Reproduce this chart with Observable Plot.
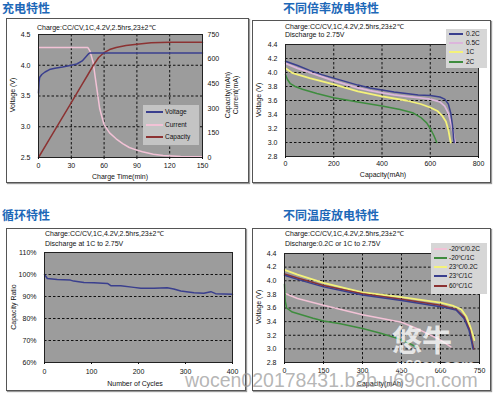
<!DOCTYPE html>
<html><head><meta charset="utf-8">
<script src="https://cdn.jsdelivr.net/npm/d3@7"></script>
<script src="https://cdn.jsdelivr.net/npm/@observablehq/plot@0.6"></script>
<style>
body{margin:0;background:#fff;width:500px;height:398px;overflow:hidden;position:relative;font-family:"Liberation Sans",Arial,sans-serif;}
.abs{position:absolute;white-space:nowrap;line-height:1;}
.title{font-family:"Noto Sans CJK SC",sans-serif;font-weight:bold;font-size:12px;color:#1d68b8;}
.box{position:absolute;border:1px solid #555;box-shadow:1px 1px 1px #999;background:#fff;box-sizing:border-box;}
.t7{font-size:7px;color:#111;}
.leg{position:absolute;box-sizing:border-box;}
</style></head><body>
<script>
// ---------- DATA ----------
// Panel 1: charge characteristics
const chargeTime    = [0, 0.5, 1, 3, 6, 10, 15, 22, 30, 35, 40, 44, 46, 47, 50, 60, 90, 120, 150];
const chargeVoltage = [3.55, 3.72, 3.80, 3.85, 3.89, 3.93, 3.95, 3.97, 4.00, 4.02, 4.07, 4.15, 4.19, 4.20, 4.20, 4.20, 4.20, 4.20, 4.20];
const currentTime   = [0, 45, 47, 50, 53, 56, 60, 65, 71, 77, 83, 90, 95, 105, 114, 130, 150];
const currentMA     = [671, 671, 650, 579, 437, 297, 200, 150, 114, 85, 61, 45, 35, 20, 12, 6, 4];
const capTime       = [0, 10, 20, 30, 40, 45, 50, 55, 60, 65, 71, 80, 90, 103, 120, 150];
const capacityMAh   = [0, 112, 224, 335, 447, 503, 560, 610, 640, 658, 671, 683, 691, 700, 702, 702];
const p1TimeTicks   = [0, 30, 60, 90, 120, 150];
const p1VoltTicks   = [2.5, 3.0, 3.5, 4.0, 4.5];
const p1RightTicks  = [0, 150, 300, 450, 600, 750];

// Panel 2: discharge at different rates
const rateCap02 = [0, 50, 100, 150, 200, 250, 300, 350, 400, 450, 500, 550, 600, 640, 660, 675, 685, 692, 697, 699];
const rateV02   = [4.16, 4.10, 4.03, 3.97, 3.92, 3.87, 3.82, 3.78, 3.75, 3.72, 3.70, 3.68, 3.67, 3.65, 3.62, 3.55, 3.42, 3.25, 3.05, 3.00];
const rateCap05 = [0, 50, 100, 150, 200, 250, 300, 350, 400, 450, 500, 550, 600, 640, 660, 675, 688, 697, 703];
const rateV05   = [4.13, 4.06, 4.00, 3.94, 3.88, 3.83, 3.78, 3.74, 3.71, 3.68, 3.66, 3.64, 3.62, 3.58, 3.52, 3.42, 3.25, 3.10, 3.00];
const rateCap1  = [0, 30, 100, 200, 300, 400, 500, 560, 600, 630, 650, 665, 675, 682, 685];
const rateV1    = [4.06, 3.99, 3.92, 3.83, 3.73, 3.66, 3.60, 3.55, 3.50, 3.45, 3.38, 3.30, 3.18, 3.05, 3.00];
const rateCap2  = [0, 8, 20, 40, 70, 130, 200, 300, 400, 475, 530, 560, 585, 600, 615, 627];
const rateV2    = [3.97, 3.90, 3.84, 3.80, 3.76, 3.70, 3.64, 3.58, 3.52, 3.47, 3.42, 3.36, 3.28, 3.20, 3.10, 3.00];
const p2CapTicks  = [0, 200, 400, 600, 800];
const p2VoltTicks = [2.8, 3.0, 3.2, 3.4, 3.6, 3.8, 4.0, 4.2, 4.4];

// Panel 3: cycle life
const cycles     = [0, 6, 27, 55, 62, 84, 105, 134, 141, 162, 190, 205, 233, 261, 275, 290, 318, 339, 354, 364, 400];
const capRatio   = [100, 98.2, 97.75, 97.45, 97.0, 96.4, 96.25, 95.95, 94.9, 94.9, 94.15, 93.7, 93.7, 94.0, 93.4, 92.5, 91.75, 91.45, 92.2, 91.3, 91.0];
const p3CycleTicks = [0, 100, 200, 300, 400];
const p3RatioTicks = [60, 70, 80, 90, 100, 110];

// Panel 4: discharge at different temperatures
const tCapM20_02 = [5, 50, 150, 300, 450, 520, 600, 640];
const tVM20_02   = [3.81, 3.74, 3.64, 3.50, 3.39, 3.28, 3.13, 3.03];
const tCapM20_1  = [0, 3, 8, 30, 110, 150, 215, 300, 370, 430, 480, 510];
const tVM20_1    = [3.95, 3.70, 3.60, 3.54, 3.45, 3.41, 3.37, 3.30, 3.23, 3.16, 3.08, 3.02];
const tCap23_02  = [0, 50, 150, 300, 450, 600, 650, 680, 700, 715, 725, 730];
const tV23_02    = [4.16, 4.09, 3.97, 3.83, 3.76, 3.68, 3.63, 3.58, 3.47, 3.32, 3.20, 3.13];
const tCap23_1   = [0, 50, 150, 300, 450, 600, 660, 690, 710, 720, 725];
const tV23_1     = [4.08, 4.02, 3.91, 3.79, 3.71, 3.62, 3.57, 3.45, 3.27, 3.10, 3.00];
const tCap60_1   = [0, 50, 150, 300, 450, 600, 660, 690, 712, 722, 728];
const tV60_1     = [4.10, 4.04, 3.93, 3.81, 3.73, 3.64, 3.58, 3.47, 3.28, 3.10, 3.00];
const p4CapTicks  = [0, 150, 300, 450, 600, 750];
const p4VoltTicks = [2.8, 3.0, 3.2, 3.4, 3.6, 3.8, 4.0, 4.2, 4.4];

// ---------- STYLE ----------
const FONT = "Liberation Sans, Arial, sans-serif";
const BG = "#9c9c9c";
const NAVY = "#3a3f8e", PINK = "#f2c2d6", LAV = "#dcb6dc", YEL = "#f4f27a", GRN = "#3e8c3e", DRED = "#8c3232";
const GRID = {stroke: "#111", strokeDasharray: "2.5,2", strokeWidth: 1};
const baseStyle = {fontFamily: FONT, fontSize: "7px", color: "#111", background: "none", overflow: "visible"};
const zip = (a, b) => a.map((v, i) => [v, b[i]]);

function el(tag, cls, css, html) {
  const e = document.createElement(tag);
  if (cls) e.className = cls;
  Object.assign(e.style, css || {});
  if (html != null) e.textContent = html;
  document.body.appendChild(e);
  return e;
}
function txt(s, x, y, opts = {}) {
  const size = opts.size || 7;
  const css = {left: x + "px", top: y + "px", fontSize: size + "px", color: opts.color || "#111"};
  let tr = "translate(0,-50%)";
  if (opts.center) tr = "translate(-50%,-50%)";
  if (opts.rot) tr = "translate(-50%,-50%) rotate(" + opts.rot + "deg)";
  css.transform = tr;
  if (opts.css) Object.assign(css, opts.css);
  return el("div", "abs", css, s);
}
function place(svg, x, y) {
  svg.style.position = "absolute";
  svg.style.left = x + "px";
  svg.style.top = y + "px";
  document.body.appendChild(svg);
}
function legend(x, y, w, h, bg, items, lineX, lineW, textX) {
  const box = el("div", "leg", {left: x + "px", top: y + "px", width: w + "px", height: h + "px", background: bg});
  items.forEach(it => {
    if (it.color) {
      const ln = el("div", "leg", {left: lineX + "px", top: (it.y - 1) + "px", width: lineW + "px", height: "2px", background: it.color});
    }
    txt(it.label, textX, it.y, {size: 6.5});
  });
}

// ---------- FRAMES & TITLES ----------
el("div", "box", {left: "6px", top: "18px", width: "243px", height: "165px"});
el("div", "box", {left: "252px", top: "20px", width: "239px", height: "163px"});
el("div", "box", {left: "6px", top: "228px", width: "240px", height: "163px"});
el("div", "box", {left: "252px", top: "228px", width: "239px", height: "163px"});
txt("充电特性", 2, 8, {css: {fontFamily: "Noto Sans CJK SC", fontWeight: "bold", fontSize: "12px", color: "#1d68b8"}});
txt("不同倍率放电特性", 283, 8, {css: {fontFamily: "Noto Sans CJK SC", fontWeight: "bold", fontSize: "12px", color: "#1d68b8"}});
txt("循环特性", 2, 215, {css: {fontFamily: "Noto Sans CJK SC", fontWeight: "bold", fontSize: "12px", color: "#1d68b8"}});
txt("不同温度放电特性", 283, 215, {css: {fontFamily: "Noto Sans CJK SC", fontWeight: "bold", fontSize: "12px", color: "#1d68b8"}});

// ---------- PANEL 1 ----------
const toV = c => 2.5 + c / 750 * 2;
const p1 = Plot.plot({
  width: 242, height: 165,
  marginLeft: 32, marginRight: 46, marginTop: 16, marginBottom: 26,
  style: baseStyle,
  x: {domain: [0, 150]},
  y: {domain: [2.5, 4.5]},
  marks: [
    Plot.frame({fill: BG}),
    Plot.ruleX([30, 60, 90, 120], GRID),
    Plot.ruleY([3.0, 3.5, 4.0], GRID),
    Plot.line(zip(currentTime, currentMA.map(toV)), {stroke: PINK, strokeWidth: 1.5}),
    Plot.line(zip(capTime, capacityMAh.map(toV)), {stroke: DRED, strokeWidth: 1.5}),
    Plot.line(zip(chargeTime, chargeVoltage), {stroke: NAVY, strokeWidth: 1.5}),
    Plot.frame({stroke: "#222"}),
    Plot.axisX({ticks: p1TimeTicks, tickSize: 2, tickPadding: 4, label: null}),
    Plot.axisY({ticks: p1VoltTicks, tickFormat: d3.format(".1f"), tickSize: 0, tickPadding: 8, label: null}),
    Plot.axisY({anchor: "right", ticks: p1RightTicks.map(toV), tickFormat: v => Math.round((v - 2.5) / 2 * 750), tickSize: 0, tickPadding: 5, label: null})
  ]
});
place(p1, 6, 18);
txt("Charge:CC/CV,1C,4.2V,2.5hrs,23±2℃", 37, 26.5);
txt("Voltage (V)", 12, 95, {rot: -90});
txt("Capacity(mAh)", 227, 95, {rot: -90});
txt("Current(mA)", 235, 95, {rot: -90});
txt("Charge Time(min)", 120, 176, {center: true});
legend(143, 105, 56, 40, "#c4c4c4", [
  {label: "Voltage", y: 112, color: NAVY},
  {label: "Current", y: 125, color: PINK},
  {label: "Capacity", y: 137, color: DRED}
], 146, 17, 165);

// ---------- PANEL 2 ----------
const p2 = Plot.plot({
  width: 239, height: 163,
  marginLeft: 33, marginRight: 13, marginTop: 24, marginBottom: 27,
  style: baseStyle,
  x: {domain: [0, 800]},
  y: {domain: [2.8, 4.4]},
  marks: [
    Plot.frame({fill: BG}),
    Plot.ruleX([200, 400, 600], GRID),
    Plot.ruleY([3.0, 3.2, 3.4, 3.6, 3.8, 4.0, 4.2], GRID),
    Plot.line(zip(rateCap2, rateV2), {stroke: GRN, strokeWidth: 1.5}),
    Plot.line(zip(rateCap1, rateV1), {stroke: YEL, strokeWidth: 1.8}),
    Plot.line(zip(rateCap05, rateV05), {stroke: LAV, strokeWidth: 1.8}),
    Plot.line(zip(rateCap02, rateV02), {stroke: NAVY, strokeWidth: 1.5}),
    Plot.frame({stroke: "#222"}),
    Plot.axisX({ticks: p2CapTicks, tickSize: 2, tickPadding: 3, label: null}),
    Plot.axisY({ticks: p2VoltTicks, tickFormat: d3.format(".1f"), tickSize: 0, tickPadding: 8, label: null})
  ]
});
place(p2, 252, 20);
txt("Charge:CC/CV,1C,4.2V,2.5hrs,23±2℃", 285, 26);
txt("Discharge to 2.75V", 285, 34);
txt("Voltage (V)", 258, 100, {rot: -90});
txt("Capacity(mAh)", 383, 174, {center: true});
legend(446, 29, 41, 39, "#d6d6d6", [
  {label: "0.2C", y: 34, color: NAVY},
  {label: "0.5C", y: 43, color: LAV},
  {label: "1C", y: 52, color: YEL},
  {label: "2C", y: 62, color: GRN}
], 449, 14, 466);

// ---------- PANEL 3 ----------
const p3 = Plot.plot({
  width: 240, height: 163,
  marginLeft: 38, marginRight: 14, marginTop: 24, marginBottom: 29,
  style: baseStyle,
  x: {domain: [0, 400]},
  y: {domain: [60, 110]},
  marks: [
    Plot.frame({fill: BG}),
    Plot.ruleY([70, 80, 90, 100], GRID),
    Plot.line(zip(cycles, capRatio), {stroke: NAVY, strokeWidth: 1.5}),
    Plot.frame({stroke: "#222"}),
    Plot.axisX({ticks: p3CycleTicks, tickSize: 2, tickPadding: 5, label: null}),
    Plot.axisY({ticks: p3RatioTicks, tickFormat: d => d + "%", tickSize: 0, tickPadding: 8, label: null})
  ]
});
place(p3, 6, 228);
txt("Charge:CC/CV,1C,4.2V,2.5hrs,23±2℃", 45, 233);
txt("Discharge at 1C to 2.75V", 45, 243);
txt("Capacity Ratio", 13, 307, {rot: -90});
txt("Number of Cycles", 135, 383, {center: true});

// ---------- PANEL 4 ----------
const p4 = Plot.plot({
  width: 239, height: 163,
  marginLeft: 32, marginRight: 12, marginTop: 25, marginBottom: 29,
  style: baseStyle,
  x: {domain: [0, 750]},
  y: {domain: [2.8, 4.4]},
  marks: [
    Plot.frame({fill: BG}),
    Plot.ruleX([150, 300, 450, 600], GRID),
    Plot.ruleY([3.0, 3.2, 3.4, 3.6, 3.8, 4.0, 4.2], GRID),
    Plot.line(zip(tCapM20_02, tVM20_02), {stroke: PINK, strokeWidth: 1.5}),
    Plot.line(zip(tCapM20_1, tVM20_1), {stroke: GRN, strokeWidth: 1.5}),
    Plot.line(zip(tCap23_02, tV23_02), {stroke: YEL, strokeWidth: 1.8}),
    Plot.line(zip(tCap60_1, tV60_1), {stroke: DRED, strokeWidth: 1.5}),
    Plot.line(zip(tCap23_1, tV23_1), {stroke: NAVY, strokeWidth: 1.5}),
    Plot.frame({stroke: "#222"}),
    Plot.axisX({ticks: p4CapTicks, tickSize: 2, tickPadding: 4, label: null}),
    Plot.axisY({ticks: p4VoltTicks, tickFormat: d3.format(".1f"), tickSize: 0, tickPadding: 8, label: null})
  ]
});
place(p4, 252, 228);
txt("Charge:CC/CV,1C,4.2V,2.5hrs,23±2℃", 285, 233);
txt("Discharge:0.2C or 1C to 2.75V", 285, 243);
txt("Voltage (V)", 258, 307, {rot: -90});
txt("Capacity(mAh)", 380, 383, {center: true});
legend(431, 243, 56, 51, "#d6d6d6", [
  {label: "-20℃/0.2C", y: 249, color: PINK},
  {label: "-20℃/1C", y: 258, color: GRN},
  {label: "23℃/0.2C", y: 267, color: YEL},
  {label: "23℃/1C", y: 276, color: NAVY},
  {label: "60℃/1C", y: 286, color: DRED}
], 434, 13, 449);

// ---------- WATERMARKS ----------
txt("悠牛", 392, 338, {css: {fontFamily: "Noto Sans CJK SC", fontSize: "30px", fontWeight: "bold", color: "rgba(255,255,255,0.75)"}});
txt("u69cn.com", 396, 364, {css: {fontSize: "15px", fontWeight: "bold", color: "rgba(255,255,255,0.75)"}});
txt("wocen020178431.b2b.u69cn.com", 185, 381, {css: {fontSize: "19.5px", color: "rgba(150,150,150,0.7)"}});
</script></body></html>
